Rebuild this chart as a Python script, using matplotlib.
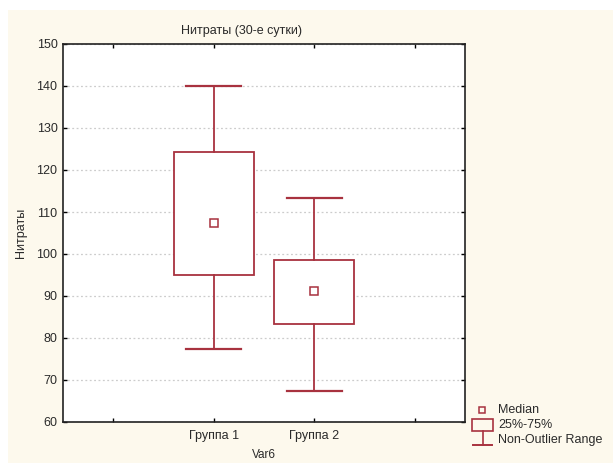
import matplotlib
matplotlib.use("Agg")
import matplotlib.pyplot as plt
from matplotlib.patches import Rectangle

plt.rcParams['font.family'] = ['Liberation Sans', 'DejaVu Sans']

# values
groups = ["Группа 1", "Группа 2"]
positions = [2, 3]
medians = [107.3, 91.2]
q1 = [95.0, 83.3]
q3 = [124.2, 98.6]
whis_lo = [77.4, 67.5]
whis_hi = [140.0, 113.4]

red = "#a8323f"
cream = "#fdf9ed"
txt = "#2a2a2a"

fig = plt.figure(figsize=(6.13, 4.63), dpi=100)
fig.patch.set_facecolor("white")
fig.add_artist(Rectangle((8 / 613, 0), 1, 1 - 10 / 463, transform=fig.transFigure,
                         facecolor=cream, edgecolor="none", zorder=-10))

ax = fig.add_axes([63 / 613, 41 / 463, 402 / 613, 378 / 463])
ax.set_facecolor("white")

stats = []
for i in range(len(groups)):
    stats.append(dict(med=medians[i], q1=q1[i], q3=q3[i],
                      whislo=whis_lo[i], whishi=whis_hi[i], fliers=[]))

ax.bxp(stats, positions=positions, widths=0.8, capwidths=0.55,
       patch_artist=True, showfliers=False,
       boxprops=dict(facecolor="white", edgecolor=red, linewidth=1.3),
       whiskerprops=dict(color=red, linewidth=1.3),
       capprops=dict(color=red, linewidth=1.6),
       medianprops=dict(linewidth=0),
       zorder=3)
ax.plot(positions, medians, ls="none", marker="s", ms=5.5, mfc="white",
        mec=red, mew=1.1, zorder=4)

ax.set_xlim(0.5, 4.5)
ax.set_ylim(60, 150)
ax.set_xticks([1, 2, 3, 4])
ax.set_xticklabels(["", groups[0], groups[1], ""])
ax.set_yticks(range(60, 151, 10))
ax.tick_params(direction="in", length=3, width=1, top=True, right=True,
               labelsize=9, pad=4, labelcolor=txt)
ax.tick_params(axis="x", pad=6)
for s in ax.spines.values():
    s.set_linewidth(1.2)
    s.set_color("#222222")

ax.yaxis.grid(True, ls=(0, (1.5, 2)), color="#cccccc", lw=0.9)
ax.set_axisbelow(True)

ax.set_title("Нитраты (30-е сутки)", fontsize=9, pad=7, x=0.445, color=txt)
ax.set_ylabel("Нитраты", fontsize=9, labelpad=7, color=txt)
ax.set_xlabel("Var6", fontsize=8.5, labelpad=5, color=txt)

# legend drawn in pixel-like coordinates
lg = fig.add_axes([466 / 613, 13 / 463, 147 / 613, 60 / 463])
lg.set_xlim(466, 613)
lg.set_ylim(463 - 13, 463 - 73)
lg.axis("off")
lg.plot([482], [410], marker="s", ms=5, mfc="none", mec=red, mew=1.1)
lg.add_patch(Rectangle((472, 419), 21, 12, facecolor="none", edgecolor=red, lw=1.2))
lg.plot([482.5, 482.5], [431, 445], color=red, lw=1.2)
lg.plot([473, 492], [445, 445], color=red, lw=1.4)
lg.text(498, 410, "Median", fontsize=9, va="center", color=txt)
lg.text(498, 425, "25%-75%", fontsize=9, va="center", color=txt)
lg.text(498, 440, "Non-Outlier Range", fontsize=9, va="center", color=txt)

fig.savefig("out.png", dpi=100)
